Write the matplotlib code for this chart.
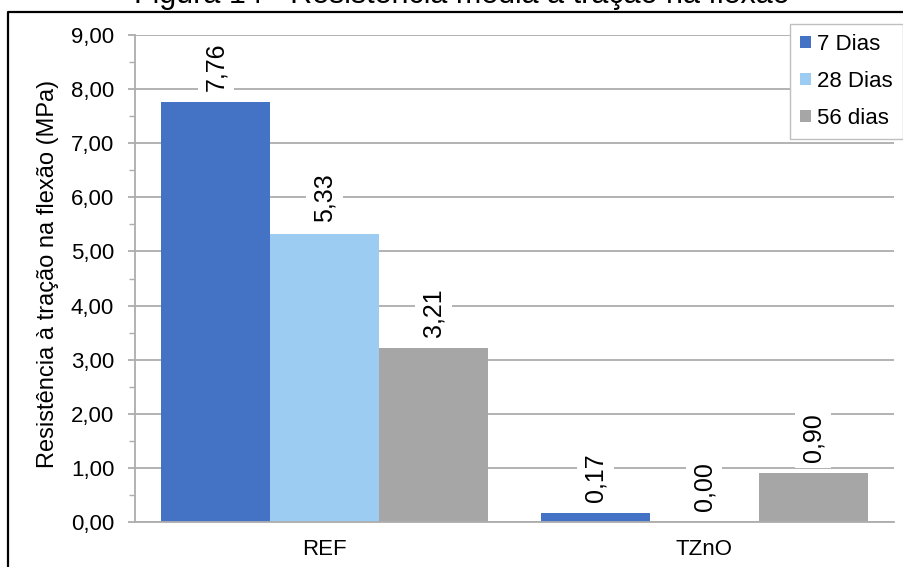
import matplotlib
matplotlib.use("Agg")
import matplotlib.pyplot as plt
from matplotlib.lines import Line2D
from matplotlib.ticker import MultipleLocator, FuncFormatter
import numpy as np

plt.rcParams['font.family'] = ['Liberation Sans', 'DejaVu Sans']

categories = ["REF", "TZnO"]
series_names = ["7 Dias", "28 Dias", "56 dias"]
values_7 = [7.76, 0.17]
values_28 = [5.33, 0.00]
values_56 = [3.21, 0.90]
title = "Figura 14 - Resistência média à tração na flexão"
ylabel = "Resistência à tração na flexão (MPa)"

colors = ["#4472C4", "#9DCCF2", "#A6A6A6"]
grid_gray = "#ADADAD"

W, H = 904, 567
fig = plt.figure(figsize=(W / 100, H / 100), dpi=100)
ax = fig.add_axes([135 / W, 1 - 522 / H, (894 - 135) / W, (522 - 35) / H])

x = np.arange(len(categories))
bw = 0.287
series = [values_7, values_28, values_56]
fmt = lambda v: f"{v:.2f}".replace(".", ",")

for i, (name, vals, col) in enumerate(zip(series_names, series, colors)):
    pos = x + (i - 1) * bw
    bars = ax.bar(pos, vals, width=bw, color=col, label=name, zorder=2)
    for b, v in zip(bars, vals):
        ax.annotate(fmt(v), (b.get_x() + b.get_width() / 2, v),
                    xytext=(0, 8), textcoords="offset points",
                    rotation=90, ha="center", va="bottom", fontsize=18,
                    bbox=dict(boxstyle="square,pad=0.25", fc="white", ec="none"),
                    zorder=3)

ax.set_xlim(-0.5, 1.5)
ax.set_ylim(0, 9)
ax.yaxis.set_major_locator(MultipleLocator(1))
ax.yaxis.set_minor_locator(MultipleLocator(0.5))
ax.yaxis.set_major_formatter(FuncFormatter(lambda v, p: fmt(v)))
ax.grid(axis="y", which="major", color=grid_gray, lw=1.3, zorder=0)
ax.set_axisbelow(True)

for s in ["top", "right"]:
    ax.spines[s].set_visible(False)
for s in ["left", "bottom"]:
    ax.spines[s].set_color(grid_gray)
    ax.spines[s].set_linewidth(1.3)

ax.set_xticks(x)
ax.set_xticklabels(categories)
ax.tick_params(axis="x", length=0, labelsize=16, pad=12)
ax.tick_params(axis="y", which="major", length=5, color=grid_gray, width=1.3,
               labelsize=16, pad=10)
ax.tick_params(axis="y", which="minor", length=4, color=grid_gray, width=1.0)

fig.text(48 / W, 1 - 274 / H, ylabel, rotation=90, ha="center", va="center",
         fontsize=17)

fig.text(462 / W, 1 - 3.5 / H, title, ha="center", va="baseline", fontsize=22)

# outer frame of the figure panel
fig.add_artist(Line2D([8 / W, 8 / W, 1.01], [-0.01, 1 - 12 / H, 1 - 12 / H],
                      transform=fig.transFigure, color="black", lw=1.6))

leg = fig.legend(loc="upper right", bbox_to_anchor=(903 / W, 1 - 24 / H),
                 fontsize=16, handlelength=0.5, handleheight=0.5,
                 handletextpad=0.3, labelspacing=0.72, borderpad=0.45,
                 borderaxespad=0, fancybox=False, framealpha=1,
                 edgecolor="#BFBFBF")
leg.get_frame().set_linewidth(1.0)

fig.savefig("out.png", dpi=100)
